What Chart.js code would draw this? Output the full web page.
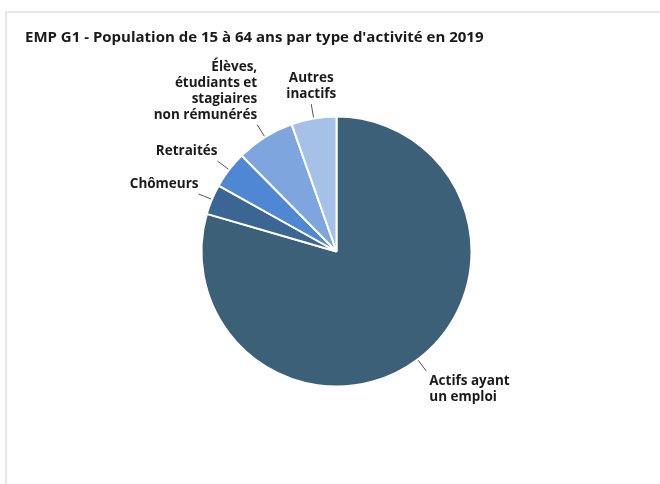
<!DOCTYPE html>
<html>
<head>
<meta charset="utf-8">
<script src="https://cdn.jsdelivr.net/npm/chart.js@4.4.1/dist/chart.umd.min.js"></script>
<style>
html,body{margin:0;padding:0;background:#fff;}
#wrap{width:660px;height:484px;position:relative;}
</style>
</head>
<body>
<div id="wrap"><canvas id="c" width="660" height="484"></canvas></div>
<script>
const titleText = "EMP G1 - Population de 15 à 64 ans par type d'activité en 2019";
const categories = [
  ["Actifs ayant", "un emploi"],
  ["Chômeurs"],
  ["Retraités"],
  ["Élèves,", "étudiants et", "stagiaires", "non rémunérés"],
  ["Autres", "inactifs"]
];
const values = [79.5, 3.6, 4.5, 7.0, 5.4];
const colors = ["#3d6079", "#3b6694", "#4f87d3", "#7ea5dd", "#a5c1e8"];

const FONT = "'Open Sans', 'Noto Sans', sans-serif";

const decor = {
  id: 'decor',
  beforeDraw(chart) {
    const ctx = chart.ctx;
    ctx.save();
    ctx.fillStyle = '#ffffff';
    ctx.fillRect(0, 0, chart.width, chart.height);
    ctx.strokeStyle = '#e6e6e6';
    ctx.lineWidth = 2;
    ctx.beginPath();
    ctx.moveTo(6, 484);
    ctx.lineTo(6, 12);
    ctx.lineTo(660, 12);
    ctx.stroke();
    ctx.fillStyle = '#1a1a1a';
    ctx.font = "bold 15px " + FONT;
    ctx.textBaseline = 'middle';
    ctx.textAlign = 'left';
    ctx.fillText(titleText, 25, 38);
    ctx.restore();
  },
  afterDatasetsDraw(chart) {
    const ctx = chart.ctx;
    const meta = chart.getDatasetMeta(0);
    ctx.save();
    ctx.font = "bold 13.5px " + FONT;
    ctx.textBaseline = 'middle';
    meta.data.forEach((arc, i) => {
      const p = arc.getProps(['x', 'y', 'startAngle', 'endAngle', 'outerRadius'], true);
      const mid = (p.startAngle + p.endAngle) / 2;
      const cx = Math.cos(mid), cy = Math.sin(mid);
      const r = p.outerRadius;
      const x1 = p.x + cx * (r + 1), y1 = p.y + cy * (r + 1);
      const x2 = p.x + cx * (r + 14.5), y2 = p.y + cy * (r + 14.5);
      ctx.strokeStyle = '#555555';
      ctx.lineWidth = 1;
      ctx.beginPath();
      ctx.moveTo(x1, y1);
      ctx.lineTo(x2, y2);
      ctx.stroke();
      const lines = categories[i];
      const lh = 16;
      ctx.fillStyle = '#1a1a1a';
      if (cy < 0) {
        let tx;
        if (Math.abs(cx) < 0.3) { ctx.textAlign = 'center'; tx = x2; }
        else if (cx < 0) { ctx.textAlign = 'right'; tx = x2; }
        else { ctx.textAlign = 'left'; tx = x2; }
        const lastY = y2 - 10;
        lines.forEach((t, k) => {
          const ty = lastY - (lines.length - 1 - k) * lh;
          ctx.fillText(t, tx, ty);
        });
      } else {
        let tx;
        if (cx >= 0) { ctx.textAlign = 'left'; tx = x2 + 3; }
        else { ctx.textAlign = 'right'; tx = x2 - 3; }
        const firstY = y2 + 10;
        lines.forEach((t, k) => {
          ctx.fillText(t, tx, firstY + k * lh);
        });
      }
    });
    ctx.restore();
  }
};

new Chart(document.getElementById('c'), {
  type: 'pie',
  data: {
    labels: categories.map(l => l.join(' ')),
    datasets: [{
      data: values,
      backgroundColor: colors,
      borderColor: '#ffffff',
      borderWidth: 2,
      hoverOffset: 0
    }]
  },
  options: {
    responsive: false,
    animation: false,
    devicePixelRatio: 1,
    radius: 135,
    layout: { padding: { left: 63, right: 50, top: 99, bottom: 80 } },
    plugins: {
      legend: { display: false },
      tooltip: { enabled: false },
      title: { display: false }
    },
    events: []
  },
  plugins: [decor]
});
</script>
</body>
</html>
